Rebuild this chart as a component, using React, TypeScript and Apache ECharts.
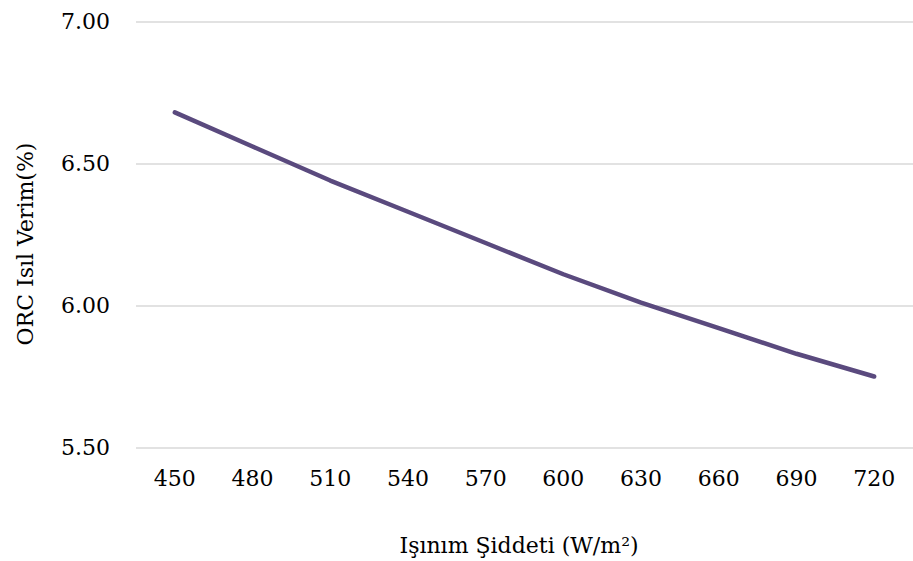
import React, { useEffect, useRef } from "react";
import * as echarts from "echarts";

// Irradiance levels (W/m²) along the x axis
const irradiance = ["450", "480", "510", "540", "570", "600", "630", "660", "690", "720"];
// ORC thermal efficiency (%) at each irradiance level
const efficiency = [6.68, 6.56, 6.44, 6.33, 6.22, 6.11, 6.01, 5.92, 5.83, 5.75];
// Y axis range and step
const yMin = 5.5;
const yMax = 7.0;
const yStep = 0.5;

const xTitle = "Işınım Şiddeti (W/m²)";
const yTitle = "ORC Isıl Verim(%)";

const FONT = "'DejaVu Serif', serif";

export default function App() {
  const ref = useRef<HTMLDivElement>(null);

  useEffect(() => {
    if (!ref.current) return;
    const chart = echarts.init(ref.current, null, { renderer: "svg" });
    chart.setOption({
      animation: false,
      backgroundColor: "#ffffff",
      grid: { left: 136, top: 21.5, width: 783, height: 426 },
      xAxis: {
        type: "category",
        data: irradiance,
        boundaryGap: true,
        axisLine: { show: false },
        axisTick: { show: false },
        axisLabel: { margin: 20, color: "#000", fontFamily: FONT, fontSize: 22 },
        splitLine: { show: false },
      },
      yAxis: {
        type: "value",
        min: yMin,
        max: yMax,
        interval: yStep,
        axisLine: { show: false },
        axisTick: { show: false },
        axisLabel: {
          margin: 26,
          color: "#000",
          fontFamily: FONT,
          fontSize: 22,
          formatter: (v: number) => v.toFixed(2),
        },
        splitLine: { lineStyle: { color: "#d9d9d9", width: 1.5 } },
      },
      graphic: [
        {
          type: "text",
          x: 519,
          y: 545,
          style: {
            text: xTitle,
            fontFamily: FONT,
            fontSize: 22,
            fill: "#000",
            align: "center",
            verticalAlign: "middle",
          },
        },
        {
          type: "text",
          x: 25,
          y: 244,
          rotation: Math.PI / 2,
          style: {
            text: yTitle,
            fontFamily: FONT,
            fontSize: 22,
            fill: "#000",
            align: "center",
            verticalAlign: "middle",
          },
        },
      ],
      series: [
        {
          type: "line",
          data: efficiency,
          showSymbol: false,
          smooth: false,
          lineStyle: { color: "#5a4a7e", width: 4.5, cap: "round", join: "round" },
        },
      ],
    });
    return () => chart.dispose();
  }, []);

  return (
    <div
      ref={ref}
      style={{ position: "absolute", left: 0, top: 0, width: 913, height: 561, overflow: "hidden" }}
    />
  );
}
